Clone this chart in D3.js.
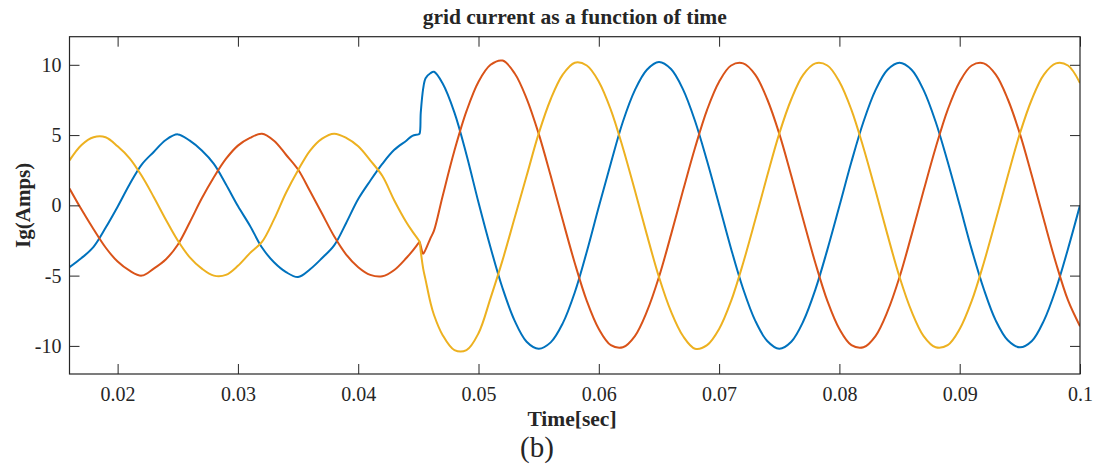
<!DOCTYPE html>
<html>
	<head>
		<meta charset="utf-8">
		<style type="text/css">
			body { margin: 0; background: #fff; }
			text { font-family: "Liberation Serif", "Times New Roman", serif; fill: #262626; }
		</style>
		<title>grid current as a function of time</title>
	</head>
	<body>
		<script src="https://cdn.jsdelivr.net/npm/d3@7"></script>
		<script>

			// sample times (sec), denser around the step
			var time = [0.016, 0.017, 0.018, 0.019, 0.020, 0.021, 0.022, 0.023, 0.024, 0.025,
				0.026, 0.027, 0.028, 0.029, 0.030, 0.031, 0.032, 0.033, 0.034, 0.035,
				0.036, 0.037, 0.038, 0.039, 0.040, 0.041, 0.042, 0.043, 0.044, 0.0445,
				0.045, 0.0451, 0.0452, 0.0454, 0.0456, 0.046, 0.0463, 0.047, 0.048, 0.049,
				0.050, 0.051, 0.052, 0.053, 0.054, 0.055, 0.056, 0.057, 0.058, 0.059,
				0.060, 0.061, 0.062, 0.063, 0.064, 0.065, 0.066, 0.067, 0.068, 0.069,
				0.070, 0.071, 0.072, 0.073, 0.074, 0.075, 0.076, 0.077, 0.078, 0.079,
				0.080, 0.081, 0.082, 0.083, 0.084, 0.085, 0.086, 0.087, 0.088, 0.089,
				0.090, 0.091, 0.092, 0.093, 0.094, 0.095, 0.096, 0.097, 0.098, 0.099, 0.100];

			// phase currents (A)
			var phaseA = [-4.4, -3.75, -2.95, -1.6, -0.1, 1.5, 2.9, 3.8, 4.65, 5.05,
				4.6, 3.9, 2.95, 1.5, -0.05, -1.45, -3.0, -4.05, -4.75, -5.1,
				-4.55, -3.75, -2.85, -1.25, 0.45, 1.75, 2.95, 3.95, 4.6, 4.95,
				5.05, 5.1, 6.6, 8.3, 9.05, 9.4, 9.5, 8.7, 6.6, 3.6,
				0.2, -3.0, -5.9, -8.2, -9.7, -10.2, -9.75, -8.4, -6.2, -3.3,
				-0.1, 3.0, 5.95, 8.2, 9.65, 10.2, 9.7, 8.25, 6.0, 3.15,
				0.05, -3.1, -5.95, -8.2, -9.65, -10.2, -9.7, -8.25, -6.0, -3.15,
				-0.05, 3.1, 5.95, 8.2, 9.65, 10.15, 9.65, 8.2, 5.95, 3.1,
				0.0, -3.15, -5.95, -8.2, -9.6, -10.1, -9.65, -8.2, -5.95, -3.1, 0.0];

			var phaseB = [1.2, -0.3, -1.7, -3.0, -4.0, -4.65, -5.0, -4.5, -3.85, -2.8,
				-1.2, 0.5, 2.0, 3.3, 4.25, 4.8, 5.1, 4.6, 3.6, 2.55,
				1.0, -0.6, -2.2, -3.5, -4.4, -4.95, -5.05, -4.6, -3.75, -3.25,
				-2.7, -2.6, -2.9, -3.45, -3.15, -2.35, -1.8, 0.6, 3.9, 6.7,
				8.8, 10.0, 10.3, 9.4, 7.6, 5.1, 2.1, -1.05, -4.1, -6.8,
				-8.8, -9.95, -10.1, -9.3, -7.55, -5.1, -2.1, 1.05, 4.1, 6.8,
				8.8, 9.95, 10.1, 9.3, 7.55, 5.1, 2.1, -1.05, -4.1, -6.8,
				-8.8, -9.95, -10.1, -9.3, -7.55, -5.1, -2.1, 1.05, 4.1, 6.8,
				8.8, 9.95, 10.1, 9.3, 7.55, 5.1, 2.1, -1.05, -4.1, -6.75, -8.6];

			var phaseC = [3.2, 4.3, 4.85, 4.85, 4.2, 3.35, 2.1, 0.6, -1.0, -2.5,
				-3.7, -4.5, -5.0, -4.95, -4.3, -3.4, -2.6, -1.0, 0.9, 2.5,
				3.9, 4.75, 5.1, 4.8, 4.2, 3.2, 2.1, 0.35, -1.2, -1.85,
				-2.45, -2.6, -3.3, -4.5, -5.3, -6.9, -7.8, -9.2, -10.3, -10.3,
				-9.1, -6.6, -3.9, -0.9, 2.1, 5.1, 7.55, 9.3, 10.15, 9.95,
				8.8, 6.8, 4.1, 1.05, -2.1, -5.1, -7.55, -9.3, -10.2, -9.95,
				-8.8, -6.8, -4.1, -1.05, 2.1, 5.1, 7.55, 9.3, 10.1, 9.95,
				8.8, 6.8, 4.1, 1.05, -2.1, -5.1, -7.55, -9.3, -10.1, -9.95,
				-8.8, -6.8, -4.1, -1.05, 2.1, 5.1, 7.55, 9.3, 10.1, 9.95, 8.7];

			var xTicks = [0.02, 0.03, 0.04, 0.05, 0.06, 0.07, 0.08, 0.09, 0.1];
			var yTicks = [-10, -5, 0, 5, 10];
			var colors = ['#0072BD', '#D95319', '#EDB120'];

			var totalWidth = 1102;
			var totalHeight = 468;
			// plot box (window.top is read-only, so no plain "top")
			var box = {x0: 69.5, x1: 1080, y0: 36.7, y1: 374};

			var svg = d3.select('body').append('svg')
				.attr('width', totalWidth)
				.attr('height', totalHeight);

			var scaleX = d3.scaleLinear().domain([0.016, 0.1]).range([box.x0, box.x1]);
			var scaleY = d3.scaleLinear().domain([-12, 12]).range([box.y1, box.y0]);

			svg.append('clipPath').attr('id', 'plot')
				.append('rect')
				.attr('x', box.x0).attr('y', box.y0)
				.attr('width', box.x1 - box.x0).attr('height', box.y1 - box.y0);

			// curves
			var line = d3.line()
				.x(function (d) { return scaleX(d[0]); })
				.y(function (d) { return scaleY(d[1]); })
				.curve(d3.curveCatmullRom.alpha(0.5));

			[phaseA, phaseB, phaseC].forEach(function (vals, i) {
				var pts = time.map(function (t, j) { return [t, vals[j]]; });
				svg.append('path')
					.datum(pts)
					.attr('clip-path', 'url(#plot)')
					.attr('fill', 'none')
					.attr('stroke', colors[i])
					.attr('stroke-width', 2)
					.attr('stroke-linejoin', 'round')
					.attr('d', line);
			});

			// axes, MATLAB box style: ticks inside on all four sides
			var tick = 10;
			var plain = function (d) { return String(d); };
			svg.append('g')
				.attr('transform', 'translate(0,' + box.y1 + ')')
				.call(d3.axisBottom(scaleX).tickValues(xTicks).tickSizeInner(-tick).tickSizeOuter(0).tickPadding(12.5).tickFormat(plain))
				.call(function (g) { g.select('.domain').remove(); });
			svg.append('g')
				.attr('transform', 'translate(0,' + box.y0 + ')')
				.call(d3.axisTop(scaleX).tickValues(xTicks).tickSizeInner(-tick).tickSizeOuter(0).tickFormat(''))
				.call(function (g) { g.select('.domain').remove(); });
			svg.append('g')
				.attr('transform', 'translate(' + box.x0 + ',0)')
				.call(d3.axisLeft(scaleY).tickValues(yTicks).tickSizeInner(-tick).tickSizeOuter(0).tickPadding(8).tickFormat(plain))
				.call(function (g) { g.select('.domain').remove(); });
			svg.append('g')
				.attr('transform', 'translate(' + box.x1 + ',0)')
				.call(d3.axisRight(scaleY).tickValues(yTicks).tickSizeInner(-tick).tickSizeOuter(0).tickFormat(''))
				.call(function (g) { g.select('.domain').remove(); });

			svg.selectAll('.tick line').attr('stroke', '#262626');
			svg.selectAll('.tick text')
				.style('font-family', '"Liberation Serif", serif')
				.style('font-size', '20px')
				.attr('fill', '#262626');

			svg.append('rect')
				.attr('x', box.x0).attr('y', box.y0)
				.attr('width', box.x1 - box.x0).attr('height', box.y1 - box.y0)
				.attr('fill', 'none')
				.attr('stroke', '#262626')
				.attr('stroke-width', 1.2);

			// labels
			svg.append('text')
				.attr('x', (box.x0 + box.x1) / 2).attr('y', 24)
				.attr('text-anchor', 'middle')
				.style('font-size', '21.5px').style('font-weight', 'bold')
				.text('grid current as a function of time');

			svg.append('text')
				.attr('transform', 'translate(30,' + ((box.y0 + box.y1) / 2) + ') rotate(-90)')
				.attr('text-anchor', 'middle')
				.style('font-size', '21px').style('font-weight', 'bold')
				.text('Ig(Amps)');

			svg.append('text')
				.attr('x', 572).attr('y', 426)
				.attr('text-anchor', 'middle')
				.style('font-size', '21.5px').style('font-weight', 'bold')
				.text('Time[sec]');

			svg.append('text')
				.attr('x', 537).attr('y', 457)
				.attr('text-anchor', 'middle')
				.style('font-size', '29px')
				.text('(b)');

		</script>
	</body>
</html>
